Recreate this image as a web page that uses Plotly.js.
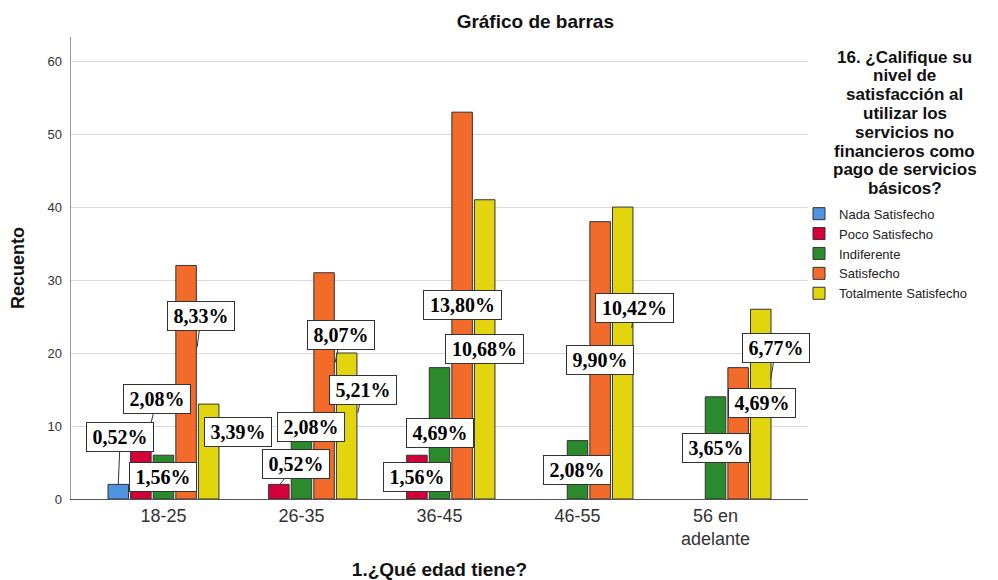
<!DOCTYPE html>
<html>
<head>
<meta charset="utf-8">
<script src="https://cdn.plot.ly/plotly-3.0.1.min.js"></script>
<style>html,body{margin:0;padding:0;background:#fff;}#chart{width:998px;height:580px;}</style>
</head>
<body>
<div id="chart"></div>
<script>
// ---- data ----
const categories = ['18-25', '26-35', '36-45', '46-55', '56 en adelante'];
const tickLabels = ['18-25', '26-35', '36-45', '46-55', '56 en<br>adelante'];
const seriesNames = ['Nada Satisfecho', 'Poco Satisfecho', 'Indiferente', 'Satisfecho', 'Totalmente Satisfecho'];
const nadaSatisfecho = [2, 0, 0, 0, 0];
const pocoSatisfecho = [8, 2, 6, 0, 0];
const indiferente = [6, 8, 18, 8, 14];
const satisfecho = [32, 31, 53, 38, 18];
const totalmenteSatisfecho = [13, 20, 41, 40, 26];
const yTicks = [0, 10, 20, 30, 40, 50, 60];
// percentage labels (category index, series index, text)
const labelCat = [0, 0, 0, 0, 0, 1, 1, 1, 1, 2, 2, 2, 2, 3, 3, 3, 4, 4, 4];
const labelSeries = [1, 0, 2, 3, 4, 1, 2, 3, 4, 1, 2, 3, 4, 2, 3, 4, 2, 3, 4];
const labelText = ['2,08%', '0,52%', '1,56%', '8,33%', '3,39%', '0,52%', '2,08%', '8,07%', '5,21%',
  '1,56%', '4,69%', '13,80%', '10,68%', '2,08%', '9,90%', '10,42%', '3,65%', '4,69%', '6,77%'];
const legendTitleLines = ['16. ¿Califique su', 'nivel de', 'satisfacción al', 'utilizar los',
  'servicios no', 'financieros como', 'pago de servicios', 'básicos?'];

// ---- styling / placement (not data) ----
const seriesValues = [nadaSatisfecho, pocoSatisfecho, indiferente, satisfecho, totalmenteSatisfecho];
const colors = ['#4f94e0', '#d5003a', '#2a8a2c', '#f26b2b', '#e2d50e'];
const BARGAP = 0.181, GROUPGAP = 0.093;
const slot = (1 - BARGAP) / seriesValues.length;
// [xshift, yshift, ax, ay, leader]
const labelPlace = [
  [6, 0, 10, -42, 1], [0, 0, 2, -47, 1], [0, -22, 0, 0, 0], [11, -82, 4, -31, 1], [29, -28, 0, 0, 0],
  [1, 0, 16, -20, 1], [10, 14, 0, 0, 0], [11, -90, 6, -28, 1], [11, -60, 5, -23, 1],
  [0, -22, 0, 0, 0], [0, -65, 0, 0, 0], [0, -193, 0, 0, 0], [0, -149, 0, 0, 0],
  [-1, -29, 0, 0, 0], [0, -138, 0, 0, 0], [9, -121, 3, -20, 1],
  [0, -51, 0, 0, 0], [24, -35, 0, 0, 0], [10, -70, 5, -31, 1]
];

const sans = 'Liberation Sans, Arial, sans-serif';
const traces = seriesValues.map((vals, i) => ({
  type: 'bar', name: seriesNames[i], x: categories,
  y: vals.map(v => (v === 0 ? null : v)),
  marker: {color: colors[i], line: {color: '#333333', width: 1}},
  hoverinfo: 'none'
}));

const annotations = labelText.map((t, i) => {
  const c = labelCat[i], s = labelSeries[i], p = labelPlace[i];
  return {
    x: c + (s - 2) * slot, y: seriesValues[s][c], xref: 'x', yref: 'y',
    text: '<b>' + t + '</b>', showarrow: !!p[4], ax: p[2], ay: p[3], axref: 'pixel', ayref: 'pixel',
    xshift: p[0], yshift: p[1], arrowhead: 0, arrowwidth: 1, arrowcolor: '#333333',
    bgcolor: '#ffffff', bordercolor: '#333333', borderwidth: 1, borderpad: 3,
    width: t.length > 5 ? 71 : 60, height: 22,
    font: {family: 'Liberation Serif, Times New Roman, serif', size: 20, color: '#000'}
  };
});
legendTitleLines.forEach((line, i) => {
  annotations.push({
    xref: 'paper', yref: 'paper', x: 1.1316, y: 0.9567, xanchor: 'center', yanchor: 'middle',
    yshift: -i * 18.8, showarrow: false, borderpad: 0, text: '<b>' + line + '</b>',
    font: {family: sans, size: 17, color: '#111'}
  });
});

const layout = {
  width: 998, height: 580,
  margin: {l: 71, r: 190, t: 37, b: 81, pad: 0},
  paper_bgcolor: '#fff', plot_bgcolor: '#fff',
  barmode: 'group', bargap: BARGAP, bargroupgap: GROUPGAP,
  title: {text: '<b>Gráfico de barras</b>', font: {family: sans, size: 19, color: '#111'},
    x: 0.630, xref: 'paper', xanchor: 'center', y: 1 - 21 / 580, yref: 'container', yanchor: 'middle'},
  xaxis: {type: 'category', range: [-0.67, 4.67], tickvals: categories, ticktext: tickLabels,
    showline: true, linecolor: '#555', linewidth: 1, ticks: '', showgrid: false,
    tickfont: {family: sans, size: 18, color: '#333'},
    title: {text: '<b>1.¿Qué edad tiene?</b>', font: {family: sans, size: 19, color: '#111'}, standoff: 18}},
  yaxis: {range: [0, 63.3], tickvals: yTicks, showline: true, linecolor: '#999', linewidth: 1.5,
    showgrid: true, gridcolor: '#d9d9d9', gridwidth: 1, zeroline: false, ticks: '', ticklabelstandoff: 5,
    tickfont: {family: sans, size: 13, color: '#333'},
    title: {text: '<b>Recuento</b>', font: {family: sans, size: 18, color: '#111'}, standoff: 18}},
  legend: {x: 0.9878, xanchor: 'left', y: 0.650, yanchor: 'top', bgcolor: 'rgba(0,0,0,0)',
    font: {family: sans, size: 13, color: '#222'}, traceorder: 'normal'},
  annotations: annotations,
  showlegend: true
};

Plotly.newPlot('chart', traces, layout, {displayModeBar: false, staticPlot: true});
</script>
</body>
</html>
